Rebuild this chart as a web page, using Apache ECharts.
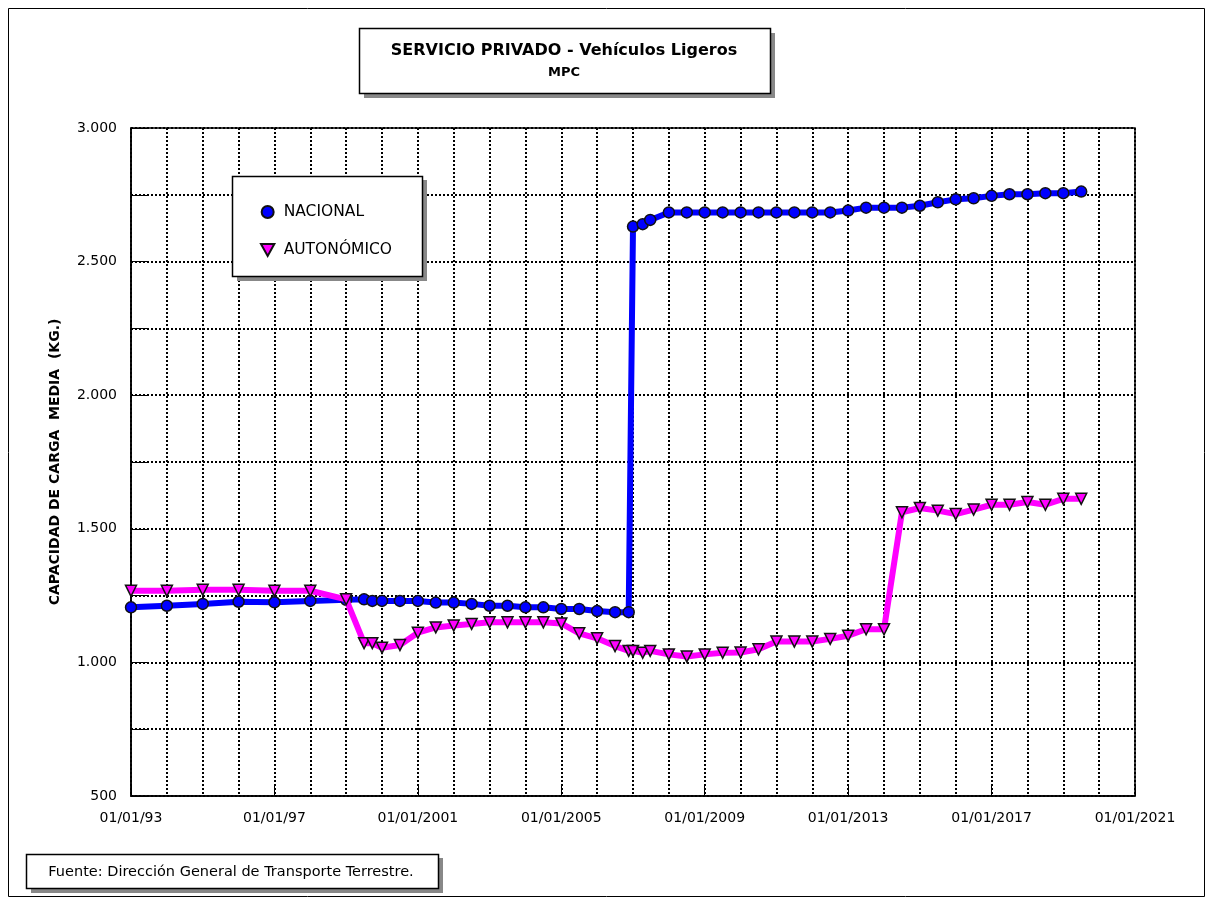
<!DOCTYPE html>
<html>
<head>
<meta charset="utf-8">
<script src="https://cdn.jsdelivr.net/npm/echarts@6/dist/echarts.min.js"></script>
<style>
html,body{margin:0;padding:0;background:#fff;}
#chart{width:1207px;height:903px;}
</style>
</head>
<body>
<div id="chart"></div>
<script>
// ---- DATA (decimal years, values in kg) ----
const years = [1993,1994,1995,1996,1997,1998,1999,1999.5,1999.73,
  2000,2000.5,2001,2001.5,2002,2002.5,2003,2003.5,2004,2004.5,2005,2005.5,2006,2006.5,
  2006.88,2007.0,2007.27,2007.48,
  2008,2008.5,2009,2009.5,2010,2010.5,2011,2011.5,2012,2012.5,2013,2013.5,2014,2014.5,
  2015,2015.5,2016,2016.5,2017,2017.5,2018,2018.5,2019,2019.5];
const nacional = [1206,1212,1219,1227,1225,1230,1234,1236,1230,
  1230,1230,1230,1224,1224,1219,1212,1212,1206,1206,1200,1200,1192,1188,
  1188,2631,2640,2656,
  2684,2684,2684,2684,2684,2684,2684,2684,2684,2684,2691,2702,2702,2702,
  2709,2722,2733,2737,2746,2752,2752,2756,2756,2762];
const autonomico = [1268,1268,1272,1272,1268,1268,1236,1072,1072,
  1055,1065,1111,1131,1138,1144,1150,1150,1150,1150,1146,1109,1090,1061,
  1043,1043,1036,1043,
  1030,1022,1030,1036,1037,1049,1078,1078,1078,1088,1100,1124,1124,1562,
  1578,1568,1555,1572,1590,1590,1600,1590,1612,1612];
const seriesNames = ['NACIONAL','AUTONÓMICO'];
const titleText = 'SERVICIO PRIVADO - Vehículos Ligeros';
const subtitleText = 'MPC';
const yAxisTitle = 'CAPACIDAD DE CARGA  MEDIA  (KG.)';
const sourceText = 'Fuente: Dirección General de Transporte Terrestre.';
const xMin = 1993, xMax = 2021;
const yMin = 500, yMax = 3000;

const FONT = 'DejaVu Sans';
function fmtY(v){
  if (v % 500 !== 0) return '';
  if (v >= 1000) return Math.floor(v/1000) + '.' + String(v%1000).padStart(3,'0');
  return String(v);
}
function fmtX(v){
  const y = Math.round(v);
  return '01/01/' + (y < 2000 ? String(y).slice(2) : String(y));
}

const chart = echarts.init(document.getElementById('chart'), null, {renderer:'canvas'});
const grid = {left:131, top:128, right:72, bottom:107};

chart.setOption({
  animation:false,
  backgroundColor:'#fff',
  grid:{left:grid.left, top:grid.top, right:grid.right, bottom:grid.bottom, show:true, borderColor:'#000', borderWidth:1.5, backgroundColor:'transparent'},
  xAxis:[{
    type:'value', min:xMin, max:xMax, interval:1,
    axisLine:{show:true, lineStyle:{color:'#000', width:1.5}},
    axisTick:{show:false}, axisLabel:{show:false},
    splitLine:{show:true, lineStyle:{color:'#000', width:2, type:[2,2]}}
  },{
    type:'value', min:xMin, max:xMax, interval:4, position:'bottom',
    axisLine:{show:false},
    axisTick:{show:true, inside:true, length:12, lineStyle:{color:'#000', width:1}},
    axisLabel:{show:true, formatter:fmtX, margin:15, color:'#000', fontFamily:FONT, fontSize:14, showMaxLabel:true, showMinLabel:true, hideOverlap:false},
    splitLine:{show:false}
  }],
  yAxis:{
    type:'value', min:yMin, max:yMax, interval:250,
    axisLine:{show:true, lineStyle:{color:'#000', width:1.5}},
    axisTick:{show:true, inside:true, length:16, lineStyle:{color:'#000', width:1}},
    axisLabel:{formatter:fmtY, margin:14, color:'#000', fontFamily:FONT, fontSize:14},
    splitLine:{show:true, lineStyle:{color:'#000', width:2, type:[2,2]}}
  },
  legend:{
    orient:'vertical', left:255, top:199, itemWidth:14, itemHeight:12, itemGap:22, z:10,
    textStyle:{fontFamily:FONT, fontSize:15.5, color:'#000', padding:[0,0,0,4]},
    data:[
      {name:seriesNames[0], icon:'circle'},
      {name:seriesNames[1], icon:'path://M0,0 L10,0 L5,9 Z'}
    ]
  },
  series:[{
    name:seriesNames[0], type:'line',
    data:years.map((y,i)=>[y, nacional[i]]),
    symbol:'circle', symbolSize:11, showAllSymbol:true,
    lineStyle:{color:'#0000FF', width:6},
    itemStyle:{color:'#0000FF', borderColor:'#111', borderWidth:1.5},
    z:3
  },{
    name:seriesNames[1], type:'line',
    data:years.map((y,i)=>[y, autonomico[i]]),
    symbol:'triangle', symbolRotate:180, symbolSize:11, showAllSymbol:true,
    lineStyle:{color:'#FF00FF', width:6},
    itemStyle:{color:'#FF00FF', borderColor:'#111', borderWidth:1.5},
    z:4
  }],
  graphic:[
    // outer border
    {type:'rect', z:1, shape:{x:8.5, y:8.5, width:1196, height:888}, style:{fill:'none', stroke:'#000', lineWidth:1}},
    // title box
    {type:'rect', z:5, shape:{x:364, y:33, width:411, height:65}, style:{fill:'#888', stroke:null}},
    {type:'rect', z:6, shape:{x:359.5, y:28.5, width:411, height:65}, style:{fill:'#fff', stroke:'#000', lineWidth:1.5}},
    {type:'text', z:7, style:{text:titleText, x:564, y:51, fill:'#000', fontFamily:FONT, fontSize:16, fontWeight:'bold', textAlign:'center', align:'center', textVerticalAlign:'middle', verticalAlign:'middle'}},
    {type:'text', z:7, style:{text:subtitleText, x:564, y:73, fill:'#000', fontFamily:FONT, fontSize:13, fontWeight:'bold', textAlign:'center', align:'center', textVerticalAlign:'middle', verticalAlign:'middle'}},
    // legend box
    {type:'rect', z:8, shape:{x:237, y:180, width:190, height:101}, style:{fill:'#888', stroke:null}},
    {type:'rect', z:9, shape:{x:232.5, y:176.5, width:190, height:100}, style:{fill:'#fff', stroke:'#000', lineWidth:1.5}},
    // y axis title
    {type:'text', z:7, x:55, y:462, rotation:Math.PI/2, style:{text:yAxisTitle, x:0, y:0, fill:'#000', fontFamily:FONT, fontSize:14, fontWeight:'bold', textAlign:'center', align:'center', textVerticalAlign:'middle', verticalAlign:'middle'}},
    // source box
    {type:'rect', z:5, shape:{x:31, y:858, width:412, height:35}, style:{fill:'#888', stroke:null}},
    {type:'rect', z:6, shape:{x:26.5, y:854.5, width:412, height:34}, style:{fill:'#fff', stroke:'#000', lineWidth:1.5}},
    {type:'text', z:7, style:{text:sourceText, x:231, y:872, fill:'#000', fontFamily:FONT, fontSize:14.5, textAlign:'center', align:'center', textVerticalAlign:'middle', verticalAlign:'middle'}}
  ]
});
</script>
</body>
</html>
